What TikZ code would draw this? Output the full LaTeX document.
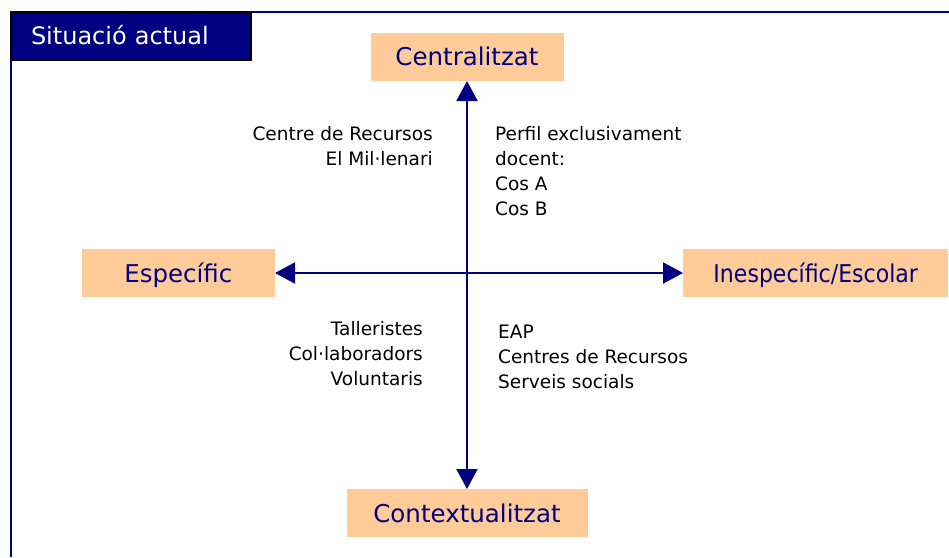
\documentclass[tikz,border=0pt]{standalone}
\usepackage{fontspec}
\setmainfont{DejaVu Sans}
\newfontfamily\narrowfont{DejaVu Sans Condensed}
\usepackage{tikz}
\usetikzlibrary{arrows.meta,positioning}
\definecolor{navyblue}{RGB}{0,0,128}
\definecolor{peach}{RGB}{255,204,153}

\begin{document}
\begin{tikzpicture}[
    x=1pt, y=-1pt,
    titlebox/.style={rectangle, draw=black, line width=2pt, fill=navyblue, text=white, outer sep=0pt,
        minimum height=48pt, text width=200pt, inner xsep=20pt, inner ysep=0pt, align=left,
        text height=18pt, text depth=0pt, font=\fontsize{24}{28}\selectfont},
    axisbox/.style={rectangle, fill=peach, text=navyblue, minimum height=48pt, inner sep=0pt,
        text height=18pt, text depth=0pt, font=\fontsize{24.5}{28}\selectfont},
    note/.style={inner sep=0pt, font=\fontsize{18.5}{25}\selectfont},
    axis/.style={{Triangle[length=20pt,width=21pt]}-{Triangle[length=20pt,width=21pt]}, draw=navyblue, fill=navyblue, line width=2pt},
    frame/.style={draw=navyblue, line width=2pt}
]
\useasboundingbox (0,0) rectangle (949,557);

% frame and title
\draw[frame] (11,557) -- (11,12) -- (949,12);
\node[titlebox, anchor=north west] (title) at (11,11.5) {Situació actual};

% the four poles round the centre
\coordinate (o) at (467,273);
\node[axisbox, minimum width=193pt, above=192pt of o] (cent) {Centralitzat};
\node[axisbox, minimum width=241pt, below=216pt of o] (ctx) {Contextualitzat};
\node[axisbox, minimum width=193pt, left=192pt of o] (espec) {Específic};
\node[axisbox, minimum width=265pt, right=216pt of o] (inesp) {\narrowfont Inespecífic/Escolar};

\draw[axis] (ctx) -- (cent);
\draw[axis] (espec) -- (inesp);

% quadrant notes
\node[note, align=right, anchor=north east] (millenari) at (433,126.5) {Centre de Recursos\\El Mil·lenari};
\node[note, align=left, anchor=north west] (docent) at (495,126.5) {Perfil exclusivament\\docent:\\Cos A\\Cos B};
\node[note, align=right, anchor=north east] (tallers) at (423,321) {Talleristes\\Col·laboradors\\Voluntaris};
\node[note, align=left, anchor=north west] (serveis) at (498,325) {EAP\\Centres de Recursos\\Serveis socials};

\end{tikzpicture}
\end{document}
